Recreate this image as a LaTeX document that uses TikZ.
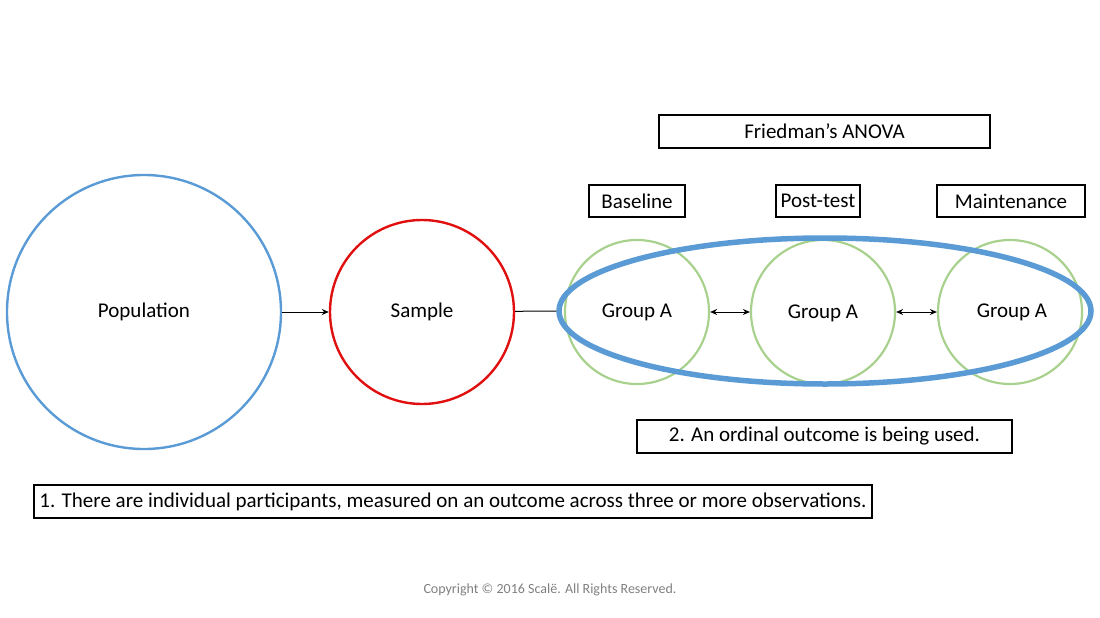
\documentclass[tikz,border=0pt]{standalone}
\usepackage{fontspec}
\setmainfont{Carlito}
\usetikzlibrary{arrows.meta,shapes.geometric}
\definecolor{popblue}{HTML}{5B9BD5}
\definecolor{sred}{HTML}{E01010}
\definecolor{ggreen}{HTML}{A9D18E}
\begin{document}
\begin{tikzpicture}[x=1pt,y=-1pt,font=\fontsize{21}{24}\selectfont,
  box/.style={draw,line width=1.2pt,inner sep=0pt},
  grp/.style={draw=ggreen,line width=2.2pt,circle,minimum size=144pt,inner sep=0pt},
  arr/.style={-{Stealth[length=7pt,width=6pt]},line width=1pt},
  darr/.style={{Stealth[length=7pt,width=6pt]}-{Stealth[length=7pt,width=6pt]},line width=1pt}]
\useasboundingbox (0,0) rectangle (1100,618);
\node[draw=popblue,line width=2.4pt,circle,minimum size=274pt] (pop) at (144,312) {Population};
\node[draw=sred,line width=2.4pt,circle,minimum size=184pt] (smp) at (422,312) {Sample};
\node[grp] (g1) at (637,312) {};
\node[grp] (g2) at (823,312) {};
\node[grp] (g3) at (1010,312) {};
\node[draw=popblue,line width=5.5pt,ellipse,minimum width=532pt,minimum height=146pt,inner sep=0pt] (ell) at (825,311) {};
\node (t1) at (637,312) {Group A};
\node (t2) at (823,313) {Group A};
\node (t3) at (1012,312) {Group A};
\draw[arr] (pop) -- (smp);
\draw[line width=1pt] (smp) -- (ell.west);
\draw[darr] (g1) -- (g2);
\draw[darr] (g2) -- (g3);
\node[box,line width=2.2pt,minimum width=331pt,minimum height=33pt] (fa) at (824.5,131.5) {Friedman’s ANOVA};
\node[box,minimum width=96pt,minimum height=32pt] (b1) at (637,201) {Baseline};
\node[box,minimum width=84pt,minimum height=32pt] (b2) at (818,201) {Post-test};
\node[box,minimum width=148pt,minimum height=32pt] (b3) at (1011,201) {Maintenance};
\node[box,minimum width=375pt,minimum height=33pt] (o2) at (824.5,436.5) {2. An ordinal outcome is being used.};
\node[box,minimum width=838pt,minimum height=33pt] (o1) at (453,501.5) {1. There are individual participants, measured on an outcome across three or more observations.};
\node[text=gray,font=\fontsize{14}{16}\selectfont] (cp) at (550,590) {Copyright © 2016 Scalë. All Rights Reserved.};
\end{tikzpicture}
\end{document}
